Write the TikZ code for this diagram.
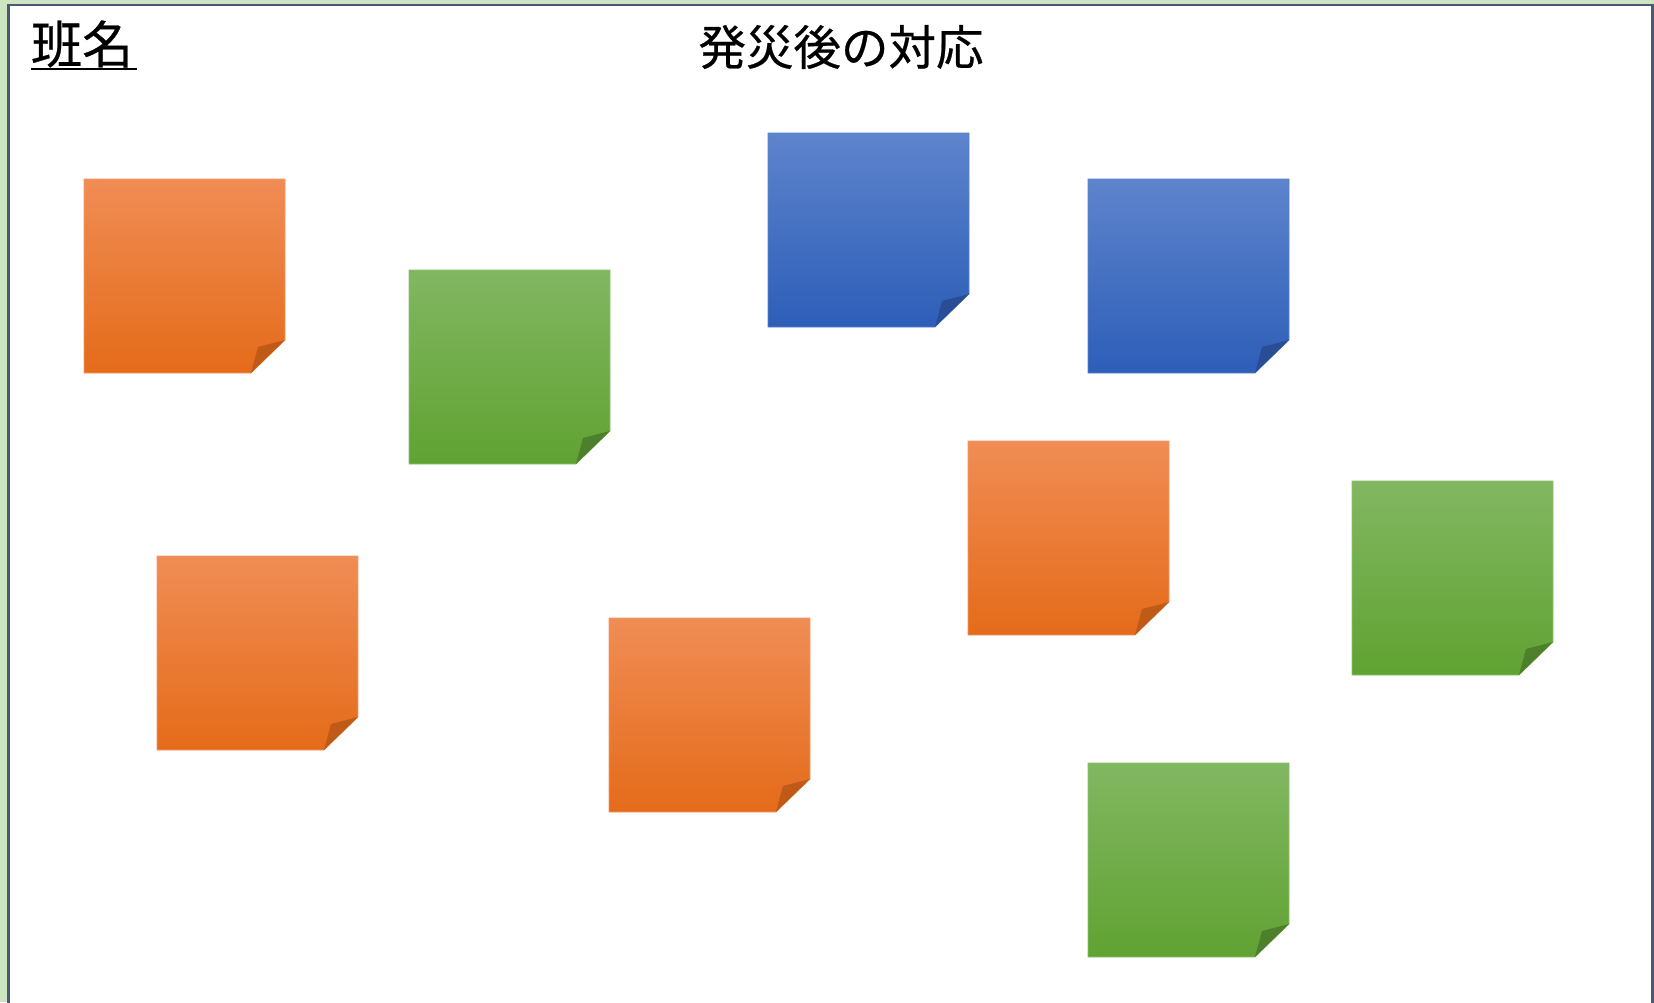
\documentclass[tikz,border=0pt]{standalone}
\usepackage{fontspec}
\setmainfont{Noto Sans CJK JP}
\newfontfamily\jpbold[FakeBold=0.5]{Noto Sans CJK JP}
\definecolor{bggreen}{HTML}{CDE5C1}
\definecolor{frameblue}{HTML}{4A5A72}
\definecolor{orT}{HTML}{F08D55}
\definecolor{orM}{HTML}{FA8226}
\definecolor{orB}{HTML}{E46B1A}
\definecolor{orF}{HTML}{BF5A17}
\definecolor{orD}{HTML}{F29A62}
\definecolor{blT}{HTML}{5E84CC}
\definecolor{blM}{HTML}{4171CA}
\definecolor{blB}{HTML}{2D5EB8}
\definecolor{blF}{HTML}{2A4E96}
\definecolor{blD}{HTML}{5A80CC}
\definecolor{grT}{HTML}{82B762}
\definecolor{grM}{HTML}{70B243}
\definecolor{grB}{HTML}{60A232}
\definecolor{grF}{HTML}{4E7F2B}
\definecolor{grD}{HTML}{8CC06A}
\tikzset{
  orangenote/.style={top color=orT, middle color=orM, bottom color=orB, draw=orD, line width=0.6pt},
  orangeflap/.style={fill=orF},
  bluenote/.style={top color=blT, middle color=blM, bottom color=blB, draw=blD, line width=0.6pt},
  blueflap/.style={fill=blF},
  greennote/.style={top color=grT, middle color=grM, bottom color=grB, draw=grD, line width=0.6pt},
  greenflap/.style={fill=grF},
  titletext/.style={inner sep=0pt, font=\jpbold\fontsize{47.5}{52}\selectfont},
  hantext/.style={inner sep=0pt, font=\jpbold\fontsize{51}{56}\selectfont},
}
\newcommand\stickynote[3]{%
  \shade[#3note] (#1,#2) -- ++(201,0) -- ++(0,161) -- ++(-34,33) -- ++(-167,0) -- cycle;
  \fill[#3flap] (#1+167,#2+194) -- (#1+174,#2+168) -- (#1+201,#2+161) -- cycle;
}
\begin{document}
\begin{tikzpicture}[x=1pt,y=-1pt]
\useasboundingbox (0,0) rectangle (1654,1002);
\fill[bggreen] (0,0) rectangle (1654,1002);
\draw[frameblue, line width=2.5pt, fill=white] (8.5,5) rectangle (1652.5,1010);
\node[hantext, anchor=west] (han) at (31,44) {班名};
\draw[line width=2pt] (31,69) -- (137,69);
\node[titletext] (title) at (841,47) {発災後の対応};
\stickynote{84}{179}{orange}
\stickynote{409}{270}{green}
\stickynote{768}{133}{blue}
\stickynote{1088}{179}{blue}
\stickynote{968}{441}{orange}
\stickynote{1352}{481}{green}
\stickynote{157}{556}{orange}
\stickynote{609}{618}{orange}
\stickynote{1088}{763}{green}
\end{tikzpicture}
\end{document}
